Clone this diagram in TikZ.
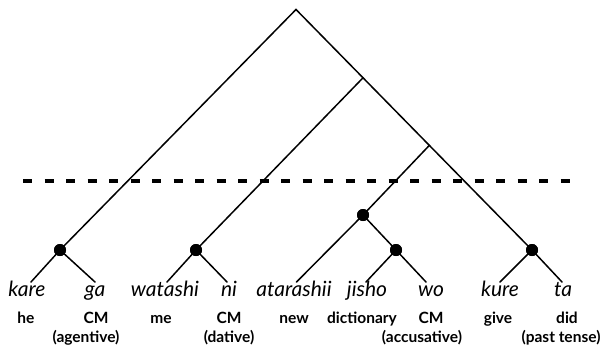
\documentclass[tikz,border=0pt]{standalone}
\usepackage{fontspec}
\setmainfont{Lato}
\usetikzlibrary{calc}
\begin{document}
\begin{tikzpicture}[x=1pt,y=-1pt,
  branch/.style={line width=1.5pt, line cap=round, line join=miter},
  joint/.style={circle, fill=black, inner sep=0pt, minimum size=12pt},
  word/.style={anchor=base, inner sep=0pt, font=\fontsize{21}{23}\selectfont\itshape},
  gloss/.style={anchor=base, inner sep=0pt, font=\fontsize{15.5}{17}\selectfont\bfseries},
  cut/.style={line width=3.5pt, dash pattern=on 9pt off 12.5pt}]
\useasboundingbox (0,0) rectangle (607,348);

% internal points of the tree
\coordinate (root) at (296,9.5);
\node[joint] (d1) at (60,250) {};
\node[joint] (d2) at (196,250) {};
\node[joint] (d3) at (363,215) {};
\node[joint] (d4) at (396,250) {};
\node[joint] (d5) at (532,250) {};
\coordinate (jA) at ($(root)!0.284!(d5)$);
\coordinate (jB) at ($(root)!0.565!(d5)$);

% leaf ends
\coordinate (l1) at (31,282);
\coordinate (l2) at (95,282);
\coordinate (l3) at (167,282);
\coordinate (l4) at (227,282);
\coordinate (l5) at (296.5,282);
\coordinate (l6) at (366,282);
\coordinate (l7) at (426,282);
\coordinate (l8) at (500,282);
\coordinate (l9) at (562,282);

% cutting level
\coordinate (cutL) at (23,181);
\coordinate (cutR) at (570,181);
\draw[cut] (cutL) -- (cutR);

% branches
\draw[branch] (d1.center) -- (root) -- (d5.center);
\draw[branch] (jA) -- (d2.center);
\draw[branch] (jB) -- (d3.center) -- (l5);
\draw[branch] (d3.center) -- (d4.center);
\draw[branch] (l1) -- (d1.center) -- (l2);
\draw[branch] (l3) -- (d2.center) -- (l4);
\draw[branch] (l6) -- (d4.center) -- (l7);
\draw[branch] (l8) -- (d5.center) -- (l9);

% redraw joints on top
\foreach \d in {d1,d2,d3,d4,d5} \fill (\d) circle (6pt);

% Japanese words
\node[word] (w1) at (27,296) {kare};
\node[word] (w2) at (95,296) {ga};
\node[word] (w3) at (165,296) {watashi};
\node[word] (w4) at (229,296) {ni};
\node[word] (w5) at (294,296) {atarashii};
\node[word] (w6) at (367,296) {jisho};
\node[word] (w7) at (431,296) {wo};
\node[word] (w8) at (500,296) {kure};
\node[word] (w9) at (563,296) {ta};

% English glosses
\node[gloss] (g1) at (26,323) {he};
\node[gloss] (g2) at (96,323) {CM};
\node[gloss] (g2b) at (86,342) {(agentive)};
\node[gloss] (g3) at (161,323) {me};
\node[gloss] (g4) at (229,323) {CM};
\node[gloss] (g4b) at (229,342) {(dative)};
\node[gloss] (g5) at (294,323) {new};
\node[gloss] (g6) at (362,323) {dictionary};
\node[gloss] (g7) at (431,323) {CM};
\node[gloss] (g7b) at (422,342) {(accusative)};
\node[gloss] (g8) at (498,323) {give};
\node[gloss] (g9) at (567,323) {did};
\node[gloss] (g9b) at (561,342) {(past tense)};
\end{tikzpicture}
\end{document}
